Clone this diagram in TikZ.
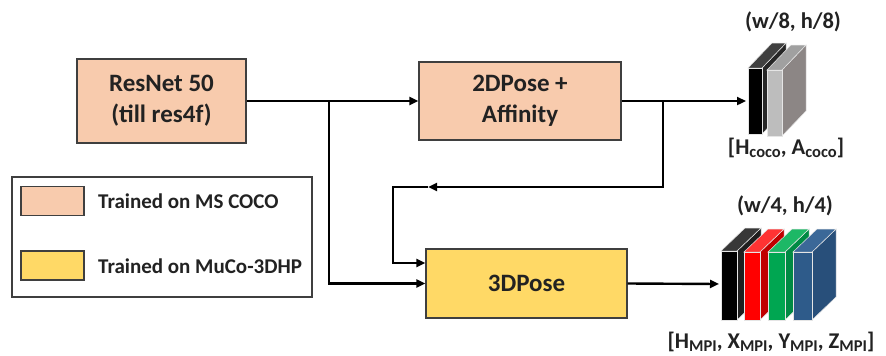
\documentclass[tikz,border=0pt]{standalone}
\usepackage{fontspec}
\setmainfont{Carlito}
\usetikzlibrary{arrows.meta,calc}
\definecolor{peach}{HTML}{F8CBAD}
\definecolor{gold}{HTML}{FFD966}
\definecolor{edgec}{HTML}{3F3F3F}
\definecolor{txt}{HTML}{222222}
\definecolor{bluef}{HTML}{2E5B8A}
\definecolor{bluet}{HTML}{3B6898}
\definecolor{blues}{HTML}{284F7A}
\definecolor{greenf}{HTML}{00A651}
\definecolor{greent}{HTML}{1DB866}
\definecolor{greens}{HTML}{008A44}
\definecolor{redf}{HTML}{FF0000}
\definecolor{redt}{HTML}{FF3333}
\definecolor{reds}{HTML}{C00000}
\definecolor{greyf}{HTML}{BDBDBD}
\definecolor{greyt}{HTML}{A0A0A0}
\definecolor{greys}{HTML}{8C8685}
\newcommand{\fmdx}{23}
\newcommand{\fmdy}{-23}
% x, ytop, width, height, front, top, side
\newcommand{\fmslab}[7]{%
  \filldraw[draw=white!80!gray,line width=0.5pt,fill=#7] (#1+#3,#2) -- ++(\fmdx,\fmdy) -- ++(0,#4) -- ++(-\fmdx,-\fmdy) -- cycle;
  \filldraw[draw=white!80!gray,line width=0.5pt,fill=#6] (#1,#2) -- ++(\fmdx,\fmdy) -- ++(#3,0) -- ++(-\fmdx,-\fmdy) -- cycle;
  \filldraw[draw=white!80!gray,line width=0.5pt,fill=#5] (#1,#2) rectangle ++(#3,#4);
}
\newcommand{\subx}[1]{\raisebox{-0.3ex}{\fontsize{16.5}{16.5}\selectfont #1}}
\tikzset{
  blk/.style={draw=edgec,line width=1.2pt,inner sep=0pt,align=center,text=txt,
    font=\fontsize{25}{31}\selectfont\bfseries},
  sw/.style={draw=edgec,line width=1.2pt,minimum width=63pt,minimum height=29pt,inner sep=0pt},
  lgtext/.style={anchor=west,inner sep=0pt,text=txt,font=\fontsize{21}{24}\selectfont\bfseries},
  fmlabel/.style={inner sep=0pt,text=txt,font=\fontsize{22.5}{24}\selectfont\bfseries},
  wire/.style={line width=2.4pt,black},
  arr/.style={wire,-{Triangle[length=9pt,width=8pt]}},
}
\begin{document}
\begin{tikzpicture}[x=1pt,y=-1pt]
\useasboundingbox[fill=white] (0,0) rectangle (886,356);
% blocks
\node[blk,fill=peach,minimum width=169pt,minimum height=84pt] (res) at (161.5,101) {ResNet 50\\(till res4f)};
\node[blk,fill=peach,minimum width=202pt,minimum height=78pt] (p2) at (520,101) {2DPose +\\Affinity};
\node[blk,fill=gold,minimum width=201pt,minimum height=69pt] (p3) at (526.5,283.5) {3DPose};
% legend
\node[draw=edgec,line width=1.2pt,minimum width=300pt,minimum height=120pt,inner sep=0pt] (leg) at (162,237) {};
\node[sw,fill=peach] (sw1) at (52.5,201) {};
\node[sw,fill=gold] (sw2) at (52.5,265.5) {};
\node[lgtext] (lg1) at (98,201) {Trained on MS COCO};
\node[lgtext] (lg2) at (98,266) {Trained on MuCo-3DHP};
% feature maps (top)
\renewcommand{\fmdx}{24}\renewcommand{\fmdy}{-25}
\fmslab{748}{68}{14}{66}{black}{black!75!white}{black!85!white}
\fmslab{767}{70}{15}{66}{greyf}{greyt}{greys}
\coordinate (fm1) at (746,101);
\node[fmlabel] (l1) at (793,22) {(w/8, h/8)};
\node[fmlabel] (l2) at (786,148) {[H\subx{coco}, A\subx{coco}]};
% feature maps (bottom)
\renewcommand{\fmdx}{24}\renewcommand{\fmdy}{-23}
\fmslab{721}{251}{16}{69}{black}{black!78!white}{black!88!white}
\fmslab{744}{252}{16}{68}{redf}{redt}{reds}
\fmslab{768}{252}{17}{68}{greenf}{greent}{greens}
\fmslab{793}{252}{19}{68}{bluef}{bluet}{blues}
\coordinate (fm2) at (719,284);
\node[fmlabel] (l3) at (785,206) {(w/4, h/4)};
\node[fmlabel] (l4) at (771,342) {[H\subx{MPI}, X\subx{MPI}, Y\subx{MPI}, Z\subx{MPI}]};
% connectors
\coordinate (b1) at (329,101);
\coordinate (b2) at (663,101);
\coordinate (fbm) at (428,187);
\coordinate (fbc) at (393,187);
\draw[arr] (res.east) -- (p2.west);
\draw[arr] (b1) |- (p3.west);
\draw[arr] (p2.east) -- (fm1);
\draw[arr] (b2) |- (fbm);
\draw[arr] (fbm) -- (fbc) |- (p3.west |- 0,263);
\draw[arr] (p3.east) -- (fm2);
\end{tikzpicture}
\end{document}
